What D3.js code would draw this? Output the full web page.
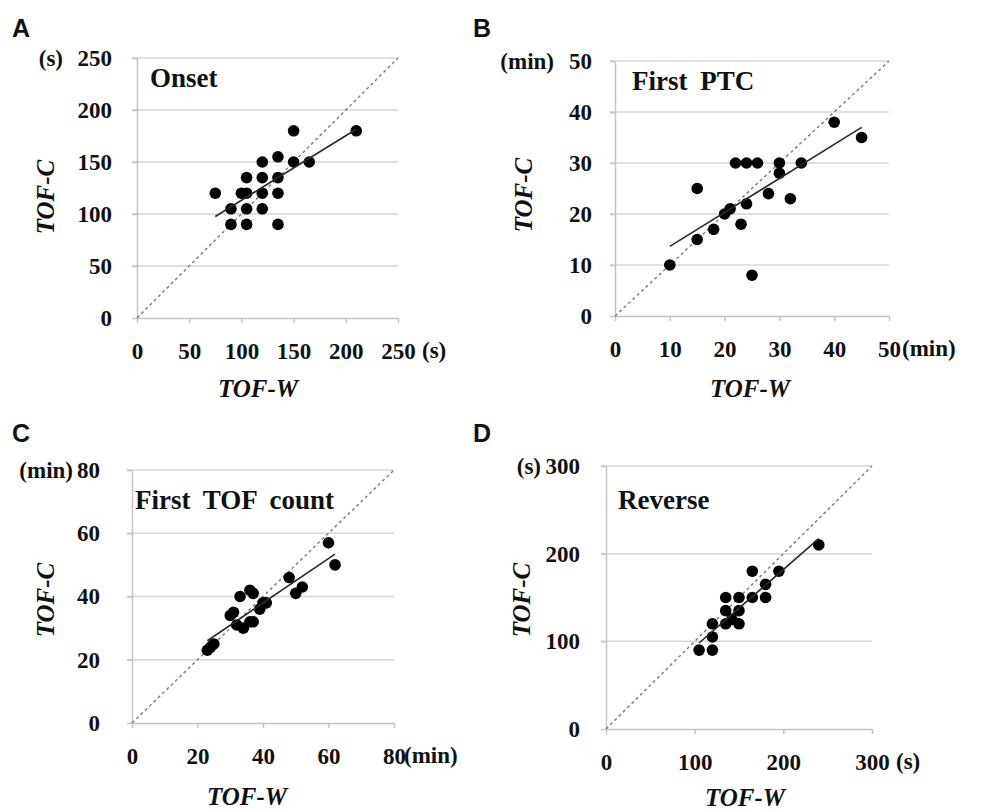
<!DOCTYPE html>
<html>
<head>
<meta charset="utf-8">
<script src="https://cdn.jsdelivr.net/npm/d3@7"></script>
<style>
  body { margin: 0; background: #fff; }
  svg text { font-family: "Liberation Serif", "Times New Roman", "DejaVu Serif", serif; font-weight: bold; fill: #111; }
</style>
</head>
<body>
<div id="chart"></div>
<script>
// A - Onset (s)
const onsetW = [75, 90, 90, 100, 105, 105, 105, 105, 120, 120, 120, 120, 135, 135, 135, 135, 150, 150, 165, 210];
const onsetC = [120, 105, 90, 120, 120, 135, 105, 90, 150, 135, 120, 105, 155, 135, 120, 90, 180, 150, 150, 180];
const onsetTicks = [0, 50, 100, 150, 200, 250];

// B - First PTC (min)
const ptcW = [10, 15, 15, 18, 20, 21, 22, 23, 24, 24, 25, 26, 28, 30, 30, 32, 34, 40, 45];
const ptcC = [10, 15, 25, 17, 20, 21, 30, 18, 30, 22, 8, 30, 24, 30, 28, 23, 30, 38, 35];
const ptcTicks = [0, 10, 20, 30, 40, 50];

// C - First TOF count (min)
const countW = [23, 24, 25, 30, 31, 32, 34, 33, 36, 37, 36, 37, 39, 40, 41, 48, 50, 52, 60, 62];
const countC = [23, 24, 25, 34, 35, 31, 30, 40, 42, 41, 32, 32, 36, 38, 38, 46, 41, 43, 57, 50];
const countTicks = [0, 20, 40, 60, 80];

// D - Reverse (s)
const reverseW = [105, 120, 120, 120, 135, 142, 150, 135, 150, 135, 150, 165, 165, 180, 180, 195, 240];
const reverseC = [90, 90, 105, 120, 120, 125, 120, 135, 135, 150, 150, 150, 180, 150, 165, 180, 210];
const reverseTicks = [0, 100, 200, 300];

const serif = "'Liberation Serif', 'Times New Roman', 'DejaVu Serif', serif";

// layout of each panel (pixel boxes)
const panels = [
  { letter: "A", title: "Onset", w: onsetW, c: onsetC, ticks: onsetTicks, unit: "(s)",
    x0: 137, x1: 398, y0: 318, y1: 58, letterX: 12, letterY: 37, titleX: 150, titleY: 87,
    yLabelX: 112, yUnitX: 63, xUnitX: 422, xTitleX: 258, xTitleY: 397, yTitleX: 46, yTitleY: 197 },
  { letter: "B", title: "First PTC", w: ptcW, c: ptcC, ticks: ptcTicks, unit: "(min)",
    x0: 615, x1: 889, y0: 316, y1: 61, letterX: 473, letterY: 37, titleX: 632, titleY: 90,
    yLabelX: 592, yUnitX: 554, xUnitX: 902, xTitleX: 750, xTitleY: 397, yTitleX: 524, yTitleY: 195 },
  { letter: "C", title: "First TOF count", w: countW, c: countC, ticks: countTicks, unit: "(min)",
    x0: 132, x1: 394, y0: 723, y1: 470, letterX: 12, letterY: 442, titleX: 135, titleY: 509,
    yLabelX: 100, yUnitX: 73, xUnitX: 404, xTitleX: 247, xTitleY: 805, yTitleX: 46, yTitleY: 600 },
  { letter: "D", title: "Reverse", w: reverseW, c: reverseC, ticks: reverseTicks, unit: "(s)",
    x0: 606, x1: 872, y0: 729, y1: 466, letterX: 473, letterY: 442, titleX: 618, titleY: 509,
    yLabelX: 580, yUnitX: 541, xUnitX: 896, xTitleX: 745, xTitleY: 806, yTitleX: 522, yTitleY: 600 }
];

const svg = d3.select("#chart")
  .append("svg")
  .attr("width", 982)
  .attr("height", 810);

// least squares fit through the points
function fitLine(xs, ys) {
  const mx = d3.mean(xs), my = d3.mean(ys);
  let sxy = 0, sxx = 0;
  xs.forEach((x, i) => {
    sxy += (x - mx) * (ys[i] - my);
    sxx += (x - mx) * (x - mx);
  });
  const slope = sxy / sxx;
  return x => my + slope * (x - mx);
}

panels.forEach(p => {
  const max = d3.max(p.ticks);
  const x = d3.scaleLinear().domain([0, max]).range([p.x0, p.x1]);
  const y = d3.scaleLinear().domain([0, max]).range([p.y0, p.y1]);
  const g = svg.append("g");

  // horizontal grid lines
  g.selectAll(".grid")
    .data(p.ticks.filter(t => t > 0))
    .enter().append("line")
    .attr("x1", p.x0 - 5)
    .attr("x2", p.x1)
    .attr("y1", d => y(d))
    .attr("y2", d => y(d))
    .style("stroke", "#d6d6d6")
    .style("stroke-width", 1.5);

  // axes
  const xAxis = g.append("g")
    .attr("transform", `translate(0,${p.y0})`)
    .call(d3.axisBottom(x).tickValues(p.ticks).tickSize(5).tickSizeOuter(0).tickPadding(20));
  const yAxis = g.append("g")
    .attr("transform", `translate(${p.x0},0)`)
    .call(d3.axisLeft(y).tickValues(p.ticks).tickSize(5).tickSizeOuter(0).tickPadding(p.x0 - 5 - p.yLabelX));

  [xAxis, yAxis].forEach(a => {
    a.attr("font-family", null);
    a.select(".domain").style("stroke", "#c4c4c4").style("stroke-width", 1.5);
    a.selectAll(".tick line").style("stroke", "#c4c4c4").style("stroke-width", 1.5);
    a.selectAll(".tick text")
      .style("font-size", "23px")
      .style("font-family", serif)
      .style("font-weight", "bold")
      .style("fill", "#111");
  });

  // units next to the top y tick and the last x tick
  g.append("text")
    .attr("x", p.yUnitX)
    .attr("y", y(max))
    .attr("dy", "0.35em")
    .style("text-anchor", "end")
    .style("font-family", serif)
    .style("font-size", "23px")
    .text(p.unit);

  g.append("text")
    .attr("x", p.xUnitX)
    .attr("y", p.y0 + 40)
    .style("text-anchor", "start")
    .style("font-family", serif)
    .style("font-size", "23px")
    .text(p.unit);

  // identity line
  g.append("line")
    .attr("x1", x(0)).attr("y1", y(0))
    .attr("x2", x(max)).attr("y2", y(max))
    .style("stroke", "#808080")
    .style("stroke-width", 1.5)
    .style("stroke-dasharray", "3,3");

  // points
  g.selectAll(".dot")
    .data(p.w.map((d, i) => ({ w: d, c: p.c[i] })))
    .enter().append("circle")
    .attr("cx", d => x(d.w))
    .attr("cy", d => y(d.c))
    .attr("r", 5.8)
    .style("fill", "#000");

  // regression line
  const f = fitLine(p.w, p.c);
  const xmin = d3.min(p.w), xmax = d3.max(p.w);
  g.append("line")
    .attr("x1", x(xmin)).attr("y1", y(f(xmin)))
    .attr("x2", x(xmax)).attr("y2", y(f(xmax)))
    .style("stroke", "#2a2a2a")
    .style("stroke-width", 1.6);

  // panel title inside the plot
  g.append("text")
    .attr("x", p.titleX)
    .attr("y", p.titleY)
    .style("font-family", serif)
    .style("font-size", "27px")
    .style("word-spacing", "6px")
    .text(p.title);

  // axis titles
  g.append("text")
    .attr("x", p.xTitleX)
    .attr("y", p.xTitleY)
    .style("text-anchor", "middle")
    .style("font-family", serif)
    .style("font-size", "25px")
    .style("font-style", "italic")
    .text("TOF-W");

  g.append("text")
    .attr("transform", `translate(${p.yTitleX + 8},${p.yTitleY}) rotate(-90)`)
    .style("text-anchor", "middle")
    .style("font-family", serif)
    .style("font-size", "25px")
    .style("font-style", "italic")
    .text("TOF-C");

  // panel letter
  g.append("text")
    .attr("x", p.letterX)
    .attr("y", p.letterY)
    .style("font-size", "25px")
    .style("font-family", "'Liberation Sans', Arial, sans-serif")
    .text(p.letter);
});
</script>
</body>
</html>
